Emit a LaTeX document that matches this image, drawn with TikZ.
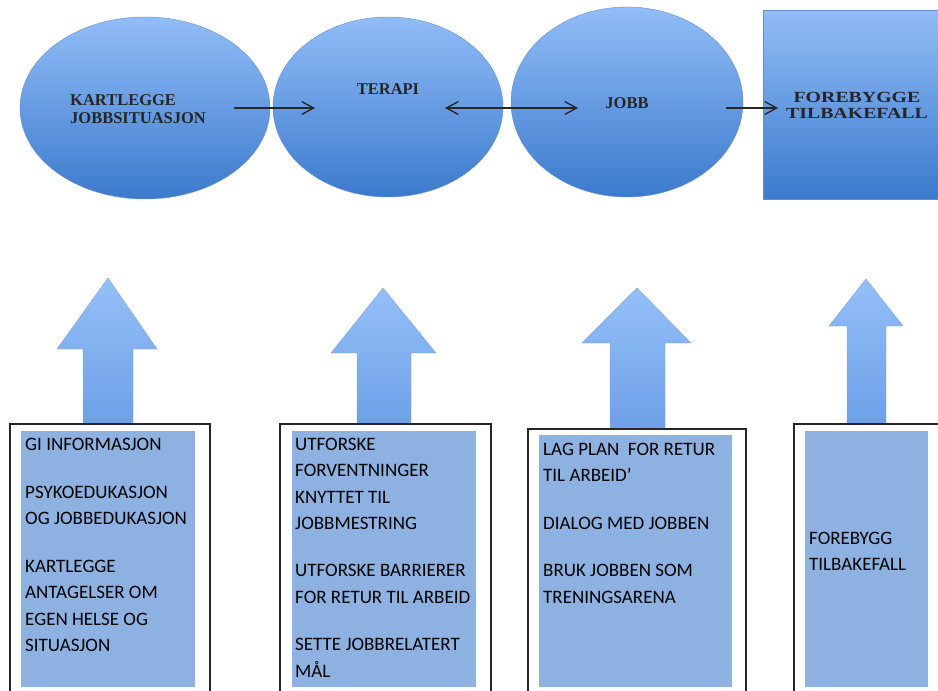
\documentclass[tikz,border=0pt]{standalone}
\usepackage{graphicx}
\usepackage{fontspec}
\setmainfont{Carlito}
\newfontfamily\timesf{Liberation Serif}
\usetikzlibrary{arrows.meta,shapes.geometric}
\definecolor{elltop}{RGB}{145,189,248}
\definecolor{ellbot}{RGB}{60,122,204}
\definecolor{arrtop}{RGB}{148,192,248}
\definecolor{arrbot}{RGB}{110,160,232}
\definecolor{boxfill}{RGB}{141,177,225}
\definecolor{edgeblue}{RGB}{100,140,205}
\begin{document}
\begin{tikzpicture}[x=1pt,y=-1pt,
  phase/.style={ellipse, inner sep=0pt, top color=elltop, bottom color=ellbot, draw=edgeblue, line width=0.4pt},
  goalbox/.style={rectangle, inner sep=0pt, top color=elltop, bottom color=ellbot, draw=edgeblue, line width=0.4pt},
  toptext/.style={font=\timesf\bfseries\fontsize{16.5}{18}\selectfont, text=black!85, inner sep=0pt},
  frame/.style={rectangle, draw=black!85, line width=1.6pt, anchor=north west, inner sep=0pt},
  panel/.style={rectangle, fill=boxfill, anchor=north west, inner sep=0pt},
  listtext/.style={font=\fontsize{19}{26.5}\selectfont, align=left, anchor=north west, inner sep=0pt, text=black},
  flow/.style={line width=1.3pt, draw=black!85},
  bigarrow/.style={top color=arrtop, bottom color=arrbot, draw=edgeblue!80, line width=0.4pt}]
\clip (0,0) rectangle (938,691);
\useasboundingbox (0,0) rectangle (938,691);

% top phases
\node[phase, minimum width=250pt, minimum height=182pt] (kart) at (145,108) {};
\node[phase, minimum width=230pt, minimum height=180pt] (terapi) at (388,107) {};
\node[phase, minimum width=232pt, minimum height=190pt] (jobb) at (627,102) {};
\node[goalbox, minimum width=175pt, minimum height=189pt] (fore) at (850.5,104.5) {};

\node[toptext, align=left, anchor=north west] (kartT) at (70,92.4) {\strut KARTLEGGE\\JOBBSITUASJON};
\node[toptext, anchor=base] (terapiT) at (388,94) {TERAPI};
\node[toptext, anchor=base] (jobbT) at (627,108) {JOBB};
\node[toptext, font=\timesf\bfseries\fontsize{15.5}{16}\selectfont, align=center, anchor=north] (foreT) at (857,90.8)
  {\strut\scalebox{1.28}[1]{FOREBYGGE}\\\scalebox{1.28}[1]{TILBAKEFALL}};

% thin flow arrows
\coordinate (f1s) at (234,108); \coordinate (f1e) at (315,108);
\coordinate (f2s) at (445,108); \coordinate (f2e) at (578,108);
\coordinate (f3s) at (726,108); \coordinate (f3e) at (778,108);
\draw[flow, -{Straight Barb[length=12pt,width=13pt]}] (f1s) -- (f1e);
\draw[flow, {Straight Barb[length=12pt,width=13pt]}-{Straight Barb[length=12pt,width=13pt]}] (f2s) -- (f2e);
\draw[flow, -{Straight Barb[length=12pt,width=13pt]}] (f3s) -- (f3e);

% block arrows
\path[bigarrow] (108,278) -- (157,349) -- (133,349) -- (133,423) -- (83,423) -- (83,349) -- (57,349) -- cycle;
\path[bigarrow] (383,288) -- (436,353) -- (411,353) -- (411,423) -- (357,423) -- (357,353) -- (331,353) -- cycle;
\path[bigarrow] (637,288) -- (691,343) -- (665,343) -- (665,428) -- (610,428) -- (610,343) -- (582,343) -- cycle;
\path[bigarrow] (866,279) -- (903,326) -- (886,326) -- (886,423) -- (847,423) -- (847,326) -- (829,326) -- cycle;

% bottom frames
\node[frame, minimum width=200pt, minimum height=290pt] (box1) at (9,423) {};
\node[frame, minimum width=211pt, minimum height=290pt] (box2) at (279,423) {};
\node[frame, minimum width=218pt, minimum height=290pt] (box3) at (527,428) {};
\node[frame, minimum width=160pt, minimum height=290pt] (box4) at (793,423) {};

\node[panel, minimum width=174pt, minimum height=256pt] (pan1) at (21,431) {};
\node[panel, minimum width=184pt, minimum height=256pt] (pan2) at (292,431) {};
\node[panel, minimum width=193pt, minimum height=252pt] (pan3) at (539,435) {};
\node[panel, minimum width=123pt, minimum height=256pt] (pan4) at (805,431) {};

\node[listtext] (txt1) at (25,431.45) {\strut GI INFORMASJON\\[21.5pt]PSYKOEDUKASJON\\OG JOBBEDUKASJON\\[21pt]KARTLEGGE\\ANTAGELSER OM\\EGEN HELSE OG\\SITUASJON};
\node[listtext] (txt2) at (295,431.45) {\strut UTFORSKE\\FORVENTNINGER\\KNYTTET TIL\\JOBBMESTRING\\[20.5pt]UTFORSKE BARRIERER\\FOR RETUR TIL ARBEID\\[21pt]SETTE JOBBRELATERT\\MÅL};
\node[listtext] (txt3) at (543,436.45) {\strut LAG PLAN\ \ FOR RETUR\\TIL ARBEID’\\[21.5pt]DIALOG MED JOBBEN\\[20.5pt]BRUK JOBBEN SOM\\TRENINGSARENA};
\node[listtext] (txt4) at (809,525.45) {\strut FOREBYGG\\TILBAKEFALL};
\end{tikzpicture}
\end{document}
